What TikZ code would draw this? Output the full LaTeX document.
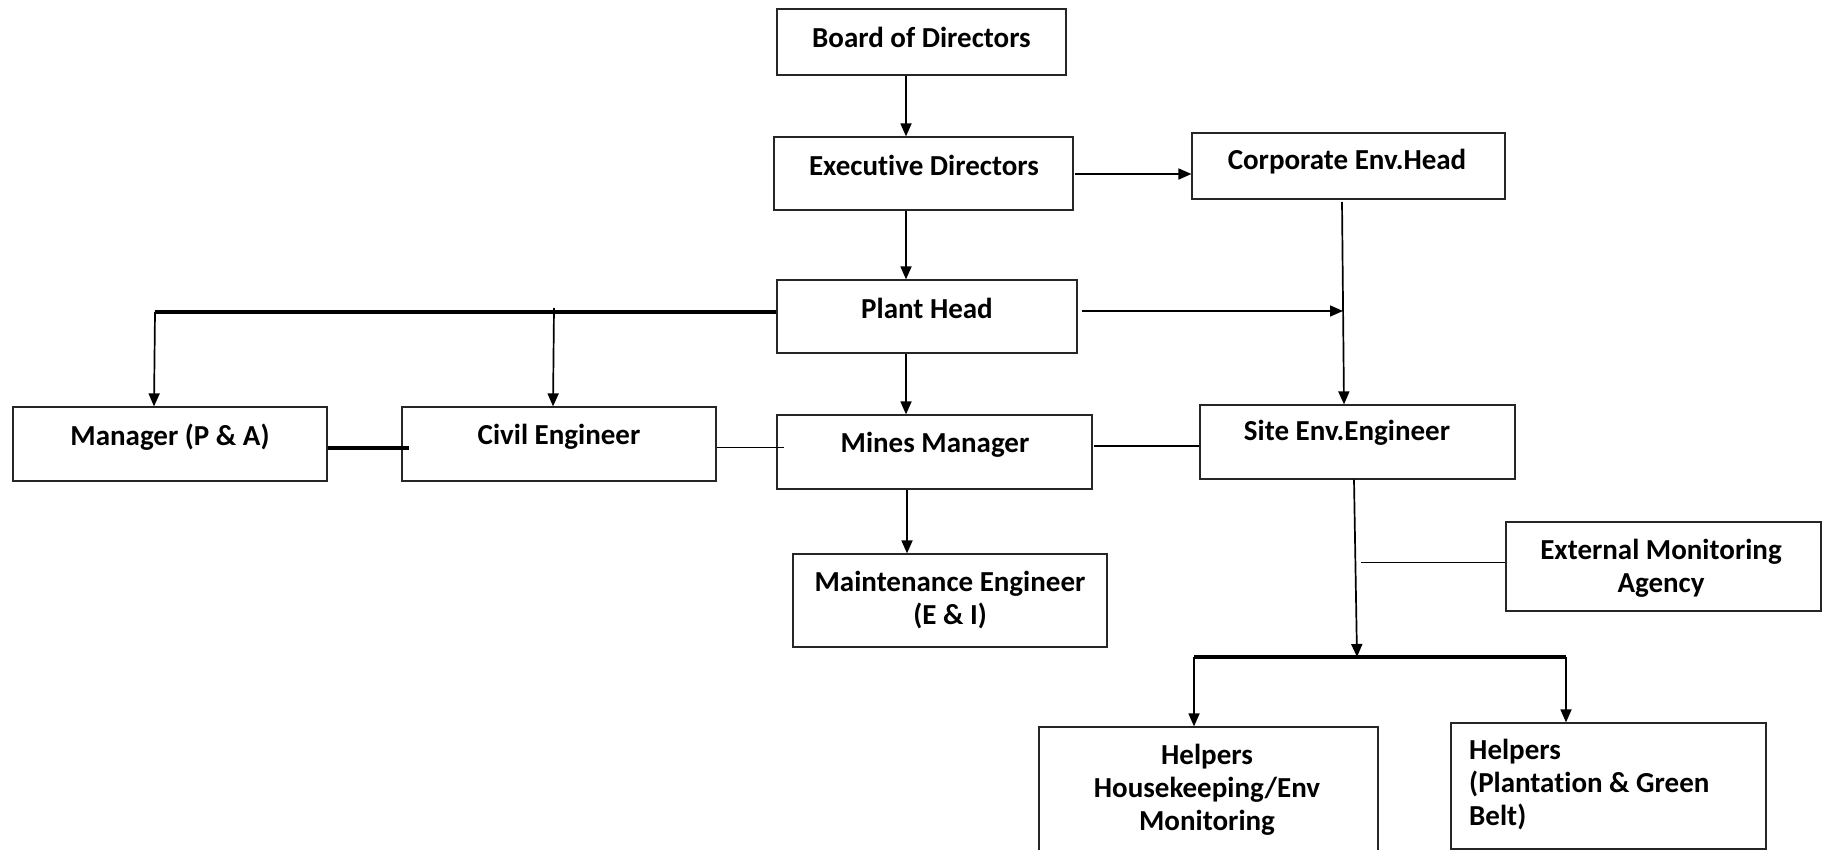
\documentclass[tikz,border=0pt]{standalone}
\usepackage{fontspec}
\setmainfont{Carlito}[Ligatures={NoCommon}]
\usetikzlibrary{arrows.meta}
\begin{document}
\begin{tikzpicture}[x=1pt,y=-1pt,
  box/.style={draw=black!85,line width=1.2pt,rectangle,inner sep=0pt},
  txt/.style={font=\fontsize{29}{33}\selectfont\bfseries,inner sep=0pt,align=center},
  arr/.style={line width=1.7pt,-{Triangle[length=13pt,width=11pt]}},
  thin/.style={line width=1pt},
  mid/.style={line width=1.7pt},
  heavy/.style={line width=3.5pt}]
\clip (0,0) rectangle (1822,850);
% boxes
\node[box,minimum width=289pt,minimum height=66pt] (bod) at (921.5,42) {};
\node[box,minimum width=299pt,minimum height=73pt] (exec) at (923.5,173.5) {};
\node[box,minimum width=313pt,minimum height=66pt] (corp) at (1348.5,166) {};
\node[box,minimum width=300pt,minimum height=73pt] (plant) at (927,316.5) {};
\node[box,minimum width=314pt,minimum height=74pt] (mgr) at (170,444) {};
\node[box,minimum width=314pt,minimum height=74pt] (civil) at (559,444) {};
\node[box,minimum width=315pt,minimum height=74pt] (mines) at (934.5,452) {};
\node[box,minimum width=315pt,minimum height=74pt] (site) at (1357.5,442) {};
\node[box,minimum width=314pt,minimum height=93pt] (maint) at (950,600.5) {};
\node[box,minimum width=315pt,minimum height=89pt] (ext) at (1663.5,566.5) {};
\node[box,minimum width=339pt,minimum height=160pt] (help1) at (1208.5,807) {};
\node[box,minimum width=315pt,minimum height=126pt] (help2) at (1608.5,786) {};
% texts
\node[txt] (tbod) at (921.5,37) {Board of Directors};
\node[txt] (texec) at (924,165) {Executive Directors};
\node[txt] (tcorp) at (1347,162) {Corporate Env.Head};
\node[txt] (tplant) at (927,308) {Plant Head};
\node[txt] (tmgr) at (170,437) {Manager (P \& A)};
\node[txt] (tcivil) at (559,437) {Civil Engineer};
\node[txt] (tmines) at (935,445) {Mines Manager};
\node[txt] (tsite) at (1347,433) {Site Env.Engineer};
\node[txt] (tmaint) at (950,600) {Maintenance Engineer\\(E \& I)};
\node[txt] (text) at (1661,568) {External Monitoring\\Agency};
\node[txt] (thelp1) at (1207,790) {Helpers\\Housekeeping/Env\\Monitoring};
\node[txt,align=left,anchor=west] (thelp2) at (1469,785) {Helpers\\(Plantation \& Green\\Belt)};
% junctions
\coordinate (jcorp) at (1343,311);
\coordinate (jleft) at (155,312);
\coordinate (jcivil) at (554,308);
\coordinate (jsite) at (1357,657);
\coordinate (jh1) at (1194,657);
\coordinate (jh2) at (1566,657);
% connectors
\draw[arr] (906,0 |- bod.south) -- (906,0 |- exec.north);
\draw[arr] (906,0 |- exec.south) -- (906,0 |- plant.north);
\draw[arr] (906,0 |- plant.south) -- (906,0 |- mines.north);
\draw[arr] (907,0 |- mines.south) -- (907,0 |- maint.north);
\draw[arr] (1075,174) -- (corp.west |- 0,174);
\draw[arr] (1082,311) -- (jcorp);
\draw[arr] (1342,202) -- (1344,0 |- site.north);
\draw[heavy] (plant.west |- 0,312) -- (jleft);
\draw[arr] (jleft) -- (154,0 |- mgr.north);
\draw[arr] (jcivil) -- (553,0 |- civil.north);
\draw[heavy] (mgr.east |- 0,448) -- (409,448);
\draw[thin] (civil.east |- 0,447) -- (784,447);
\draw[mid] (1094,446) -- (site.west |- 0,446);
\draw[arr] (1354,0 |- site.south) -- (jsite);
\draw[thin] (1361,562) -- (ext.west |- 0,562);
\draw[heavy] (jh1) -- (jh2);
\draw[arr] (jh1) -- (1194,0 |- help1.north);
\draw[arr] (jh2) -- (1566,0 |- help2.north);
\end{tikzpicture}
\end{document}
